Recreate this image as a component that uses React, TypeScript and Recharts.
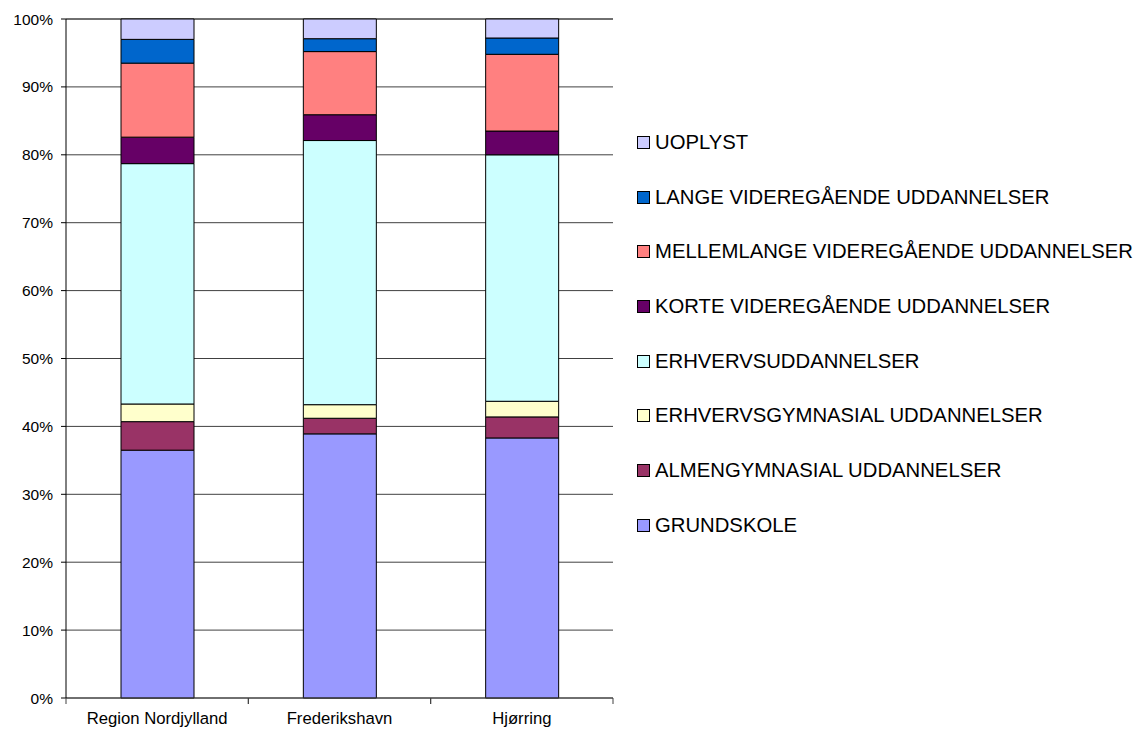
import React from "react";
import { BarChart, Bar, XAxis, YAxis, CartesianGrid } from "recharts";

const categories = ["Region Nordjylland", "Frederikshavn", "Hjørring"];

// percent shares per category
const grundskole = [36.5, 38.9, 38.3];
const almengymnasial = [4.2, 2.3, 3.1];
const erhvervsgymnasial = [2.6, 2.0, 2.3];
const erhvervsuddannelser = [35.4, 38.9, 36.3];
const korteVideregaaende = [3.9, 3.8, 3.5];
const mellemlangeVideregaaende = [10.9, 9.3, 11.3];
const langeVideregaaende = [3.5, 1.9, 2.4];
const uoplyst = [3.0, 2.9, 2.8];

const yTicks = [0, 10, 20, 30, 40, 50, 60, 70, 80, 90, 100];

// bottom-to-top stacking order
const series = [
  { key: "GRUNDSKOLE", values: grundskole, color: "#9999FF" },
  { key: "ALMENGYMNASIAL UDDANNELSER", values: almengymnasial, color: "#993366" },
  { key: "ERHVERVSGYMNASIAL UDDANNELSER", values: erhvervsgymnasial, color: "#FFFFCC" },
  { key: "ERHVERVSUDDANNELSER", values: erhvervsuddannelser, color: "#CCFFFF" },
  { key: "KORTE VIDEREGÅENDE UDDANNELSER", values: korteVideregaaende, color: "#660066" },
  { key: "MELLEMLANGE VIDEREGÅENDE UDDANNELSER", values: mellemlangeVideregaaende, color: "#FF8080" },
  { key: "LANGE VIDEREGÅENDE UDDANNELSER", values: langeVideregaaende, color: "#0066CC" },
  { key: "UOPLYST", values: uoplyst, color: "#CCCCFF" },
];

const data = categories.map((name, i) => {
  const row: Record<string, string | number> = { name };
  series.forEach((s) => {
    row[s.key] = s.values[i];
  });
  return row;
});

const FONT = '"Liberation Sans", Arial, sans-serif';
const PLOT_LEFT = 66;
const PLOT_RIGHT = 613;
const PLOT_BOTTOM = 698;
const BAND = (PLOT_RIGHT - PLOT_LEFT) / categories.length;

function CategoryTick(props: any) {
  const { x, payload } = props;
  return (
    <g>
      <line x1={x - BAND / 2} x2={x - BAND / 2} y1={PLOT_BOTTOM} y2={PLOT_BOTTOM + 6} stroke="#404040" />
      <line x1={x + BAND / 2} x2={x + BAND / 2} y1={PLOT_BOTTOM} y2={PLOT_BOTTOM + 6} stroke="#404040" />
      <text x={x} y={PLOT_BOTTOM + 26} textAnchor="middle" fill="#000" fontSize={16.7} fontFamily={FONT}>
        {payload.value}
      </text>
    </g>
  );
}

function LegendList() {
  const items = [...series].reverse();
  return (
    <div
      style={{
        position: "absolute",
        left: 637,
        top: 115,
        fontFamily: FONT,
        fontSize: 20.3,
        color: "#000",
      }}
    >
      {items.map((s) => (
        <div key={s.key} style={{ display: "flex", alignItems: "center", height: 54.7, whiteSpace: "nowrap" }}>
          <span
            style={{
              display: "inline-block",
              width: 11,
              height: 11,
              background: s.color,
              border: "1px solid #000",
              marginRight: 5,
            }}
          />
          <span>{s.key}</span>
        </div>
      ))}
    </div>
  );
}

export default function App() {
  return (
    <div style={{ position: "absolute", left: 0, top: 0, width: 1142, height: 733, background: "#fff" }}>
      <BarChart
        width={1142}
        height={733}
        data={data}
        margin={{ top: 19, right: 1142 - PLOT_RIGHT, bottom: 0, left: 0 }}
        barSize={73}
      >
        <CartesianGrid vertical={false} stroke="#404040" strokeOpacity={1} />
        <XAxis
          dataKey="name"
          height={35}
          axisLine={{ stroke: "#404040" }}
          tickLine={false}
          tick={<CategoryTick />}
          interval={0}
        />
        <YAxis
          width={PLOT_LEFT}
          domain={[0, 100]}
          ticks={yTicks}
          tickFormatter={(v: number) => `${v}%`}
          axisLine={{ stroke: "#000" }}
          tickLine={{ stroke: "#000" }}
          tickSize={5}
          tickMargin={8}
          tick={{ fill: "#000", fontSize: 15.5, fontFamily: FONT }}
          interval={0}
        />
        <YAxis
          yAxisId="frame"
          orientation="right"
          width={0}
          domain={[0, 100]}
          tick={false}
          tickLine={false}
          axisLine={{ stroke: "#808080" }}
        />
        {series.map((s) => (
          <Bar
            key={s.key}
            dataKey={s.key}
            stackId="a"
            fill={s.color}
            stroke="#000"
            strokeWidth={1}
            isAnimationActive={false}
          />
        ))}
      </BarChart>
      <LegendList />
    </div>
  );
}
